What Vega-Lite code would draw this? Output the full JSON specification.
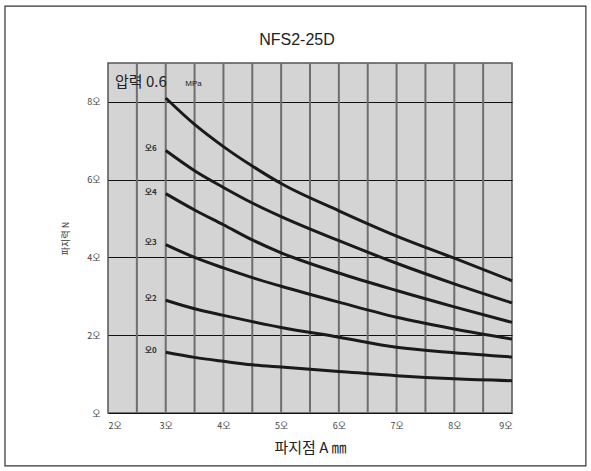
{
  "$schema": "https://vega.github.io/schema/vega-lite/v6.json",
  "width": 404,
  "height": 350,
  "autosize": {"type": "none"},
  "padding": {"left": 108, "top": 63, "right": 79, "bottom": 58},
  "background": "white",
  "title": {"text": "NFS2-25D", "fontSize": 16, "font": "Liberation Sans", "fontWeight": "normal", "color": "#222", "anchor": "middle", "frame": "group", "offset": -42, "dx": -13},
  "config": {
    "view": {"fill": "#d4d4d4", "stroke": "#555", "strokeWidth": 1.5},
    "font": "Noto Sans CJK KR"
  },
  "datasets": {
    "curves": [
      {"s": "a", "x": 30, "y": 81}, {"s": "a", "x": 35, "y": 74.2}, {"s": "a", "x": 40, "y": 68.5}, {"s": "a", "x": 45, "y": 63.5}, {"s": "a", "x": 50, "y": 59}, {"s": "a", "x": 60, "y": 52}, {"s": "a", "x": 70, "y": 45.5}, {"s": "a", "x": 80, "y": 39.8}, {"s": "a", "x": 90, "y": 34},
      {"s": "b", "x": 30, "y": 67.5}, {"s": "b", "x": 35, "y": 62.3}, {"s": "b", "x": 40, "y": 58}, {"s": "b", "x": 45, "y": 54}, {"s": "b", "x": 50, "y": 50.5}, {"s": "b", "x": 60, "y": 44.3}, {"s": "b", "x": 70, "y": 38.5}, {"s": "b", "x": 80, "y": 33.2}, {"s": "b", "x": 90, "y": 28.3},
      {"s": "c", "x": 30, "y": 56.4}, {"s": "c", "x": 35, "y": 52.2}, {"s": "c", "x": 40, "y": 48.4}, {"s": "c", "x": 45, "y": 44.5}, {"s": "c", "x": 50, "y": 41.2}, {"s": "c", "x": 60, "y": 36}, {"s": "c", "x": 70, "y": 31.5}, {"s": "c", "x": 80, "y": 27.3}, {"s": "c", "x": 90, "y": 23.3},
      {"s": "d", "x": 30, "y": 43.3}, {"s": "d", "x": 35, "y": 40}, {"s": "d", "x": 40, "y": 37.3}, {"s": "d", "x": 45, "y": 34.8}, {"s": "d", "x": 50, "y": 32.6}, {"s": "d", "x": 60, "y": 28.5}, {"s": "d", "x": 70, "y": 24.6}, {"s": "d", "x": 80, "y": 21.6}, {"s": "d", "x": 90, "y": 19},
      {"s": "e", "x": 30, "y": 29}, {"s": "e", "x": 35, "y": 26.8}, {"s": "e", "x": 40, "y": 25.1}, {"s": "e", "x": 45, "y": 23.5}, {"s": "e", "x": 50, "y": 22}, {"s": "e", "x": 60, "y": 19.5}, {"s": "e", "x": 70, "y": 16.9}, {"s": "e", "x": 80, "y": 15.5}, {"s": "e", "x": 90, "y": 14.4},
      {"s": "f", "x": 30, "y": 15.6}, {"s": "f", "x": 35, "y": 14.3}, {"s": "f", "x": 40, "y": 13.3}, {"s": "f", "x": 45, "y": 12.4}, {"s": "f", "x": 50, "y": 11.8}, {"s": "f", "x": 60, "y": 10.7}, {"s": "f", "x": 70, "y": 9.6}, {"s": "f", "x": 80, "y": 8.8}, {"s": "f", "x": 90, "y": 8.3}
    ],
    "grid": [{"x": 25}, {"x": 30}, {"x": 35}, {"x": 40}, {"x": 45}, {"x": 50}, {"x": 55}, {"x": 60}, {"x": 65}, {"x": 70}, {"x": 75}, {"x": 80}, {"x": 85}],
    "labels": [
      {"t": "오6", "x": 27.4, "y": 67.8},
      {"t": "오4", "x": 27.4, "y": 56.7},
      {"t": "오3", "x": 27.4, "y": 43.7},
      {"t": "오2", "x": 27.4, "y": 29.4},
      {"t": "오0", "x": 27.4, "y": 16}
    ],
    "note": [{"t": "압력 0.6", "x": 21.2, "y": 85.2, "u": "MPa", "ux": 33.4, "uy": 84.6}],
    "frame": [{"x1": 2.15, "x2": 102.8, "y1": -13.6, "y2": 104.6}]
  },
  "layer": [
    {
      "data": {"name": "frame"},
      "mark": {"type": "rect", "fill": null, "stroke": "#333", "strokeWidth": 1.2, "clip": false},
      "encoding": {
        "x": {"field": "x1", "type": "quantitative", "scale": {"domain": [20, 90]}},
        "x2": {"field": "x2"},
        "y": {"field": "y1", "type": "quantitative", "scale": {"domain": [0, 90]}},
        "y2": {"field": "y2"}
      }
    },
    {
      "data": {"name": "grid"},
      "mark": {"type": "rule", "color": "#6e6e6e", "strokeWidth": 2},
      "encoding": {
        "x": {"field": "x", "type": "quantitative"}
      }
    },
    {
      "data": {"name": "curves"},
      "mark": {"type": "line", "color": "#1a1a1a", "strokeWidth": 3, "interpolate": "monotone"},
      "encoding": {
        "x": {
          "field": "x", "type": "quantitative",
          "scale": {"domain": [20, 90], "nice": false, "zero": false},
          "axis": {
            "values": [20, 30, 40, 50, 60, 70, 80, 90],
            "labelExpr": "floor(datum.value / 10) + '오'",
            "grid": false,
            "ticks": false, "domain": false, "labelPadding": 8,
            "labelFontSize": 9, "labelColor": "#444", "labelFont": "Noto Sans CJK KR",
            "title": "파지점 A ㎜", "titleFontSize": 15, "titleFontWeight": "normal", "titleColor": "#222",
            "titlePadding": 10, "titleFont": "Noto Sans CJK KR"
          }
        },
        "y": {
          "field": "y", "type": "quantitative",
          "scale": {"domain": [0, 90], "nice": false},
          "axis": {
            "values": [0, 20, 40, 60, 80],
            "labelExpr": "datum.value == 0 ? '오' : floor(datum.value / 10) + '오'",
            "grid": true, "gridColor": "#111", "gridWidth": 1, "gridOpacity": 1,
            "ticks": false, "domain": false, "labelPadding": 8,
            "labelFontSize": 9, "labelColor": "#444", "labelFont": "Noto Sans CJK KR",
            "title": "파지력 N", "titleFontSize": 9, "titleFontWeight": "normal", "titleColor": "#333",
            "titlePadding": 16, "titleFont": "Noto Sans CJK KR"
          }
        },
        "detail": {"field": "s"}
      }
    },
    {
      "data": {"name": "labels"},
      "mark": {"type": "text", "fontSize": 8, "color": "#333", "align": "center", "baseline": "middle", "font": "Noto Sans CJK KR", "fontWeight": "bold"},
      "encoding": {
        "x": {"field": "x", "type": "quantitative"},
        "y": {"field": "y", "type": "quantitative"},
        "text": {"field": "t"}
      }
    },
    {
      "data": {"name": "note"},
      "mark": {"type": "text", "fontSize": 15, "color": "#222", "align": "left", "baseline": "middle", "font": "Noto Sans CJK KR"},
      "encoding": {
        "x": {"field": "x", "type": "quantitative"},
        "y": {"field": "y", "type": "quantitative"},
        "text": {"field": "t"}
      }
    },
    {
      "data": {"name": "note"},
      "mark": {"type": "text", "fontSize": 8, "color": "#222", "align": "left", "baseline": "middle", "font": "Liberation Sans"},
      "encoding": {
        "x": {"field": "ux", "type": "quantitative"},
        "y": {"field": "uy", "type": "quantitative"},
        "text": {"field": "u"}
      }
    }
  ]
}
